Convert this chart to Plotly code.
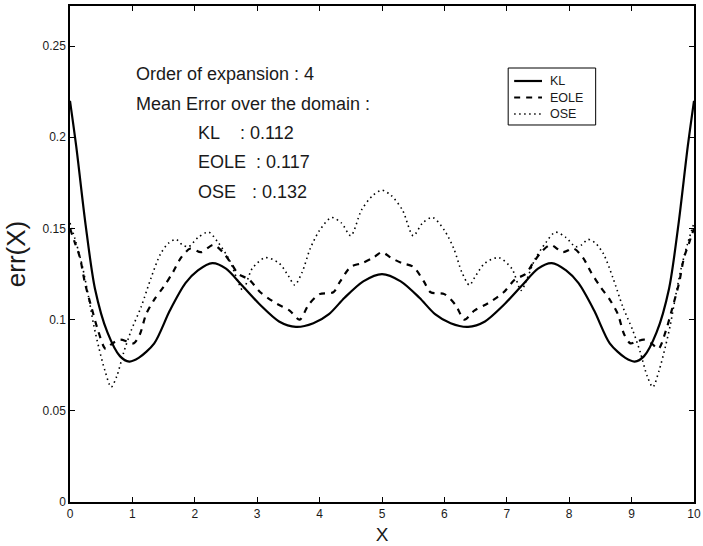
import plotly.graph_objects as go

# Error of the truncated expansions along the domain (order 4)
kl_x = [0, 0.1, 0.25, 0.4, 0.6, 0.8, 0.95, 1.1, 1.35, 1.6, 1.85, 2.05, 2.28, 2.5, 2.75,
        3.05, 3.35, 3.62, 3.9, 4.15, 4.4, 4.7, 5.0,
        5.3, 5.6, 5.85, 6.1, 6.38, 6.65, 6.95, 7.25, 7.5, 7.72, 7.95, 8.15, 8.4, 8.65,
        8.9, 9.05, 9.2, 9.4, 9.6, 9.75, 9.9, 10]
kl_err = [0.220, 0.195, 0.152, 0.117, 0.093, 0.080, 0.077, 0.079, 0.087, 0.105, 0.120,
          0.127, 0.131, 0.128, 0.119, 0.108, 0.099, 0.096, 0.098, 0.103, 0.112, 0.121, 0.125,
          0.121, 0.112, 0.103, 0.098, 0.096, 0.099, 0.108, 0.119, 0.128, 0.131, 0.127, 0.120,
          0.105, 0.087, 0.079, 0.077, 0.080, 0.093, 0.117, 0.152, 0.195, 0.220]

eole_x = [0, 0.08, 0.16, 0.24, 0.35, 0.45, 0.57, 0.68, 0.8, 0.92, 1.02, 1.12, 1.22, 1.35,
          1.5, 1.65, 1.78, 1.93, 2.1, 2.3, 2.45, 2.58, 2.7, 2.87, 3.05, 3.3, 3.52, 3.68,
          3.82, 4.0, 4.22, 4.33, 4.5, 4.68, 4.86, 5.0,
          5.14, 5.32, 5.5, 5.67, 5.78, 6.0, 6.18, 6.32, 6.48, 6.7, 6.95, 7.13, 7.3, 7.42,
          7.55, 7.7, 7.9, 8.07, 8.22, 8.35, 8.5, 8.65, 8.78, 8.88, 8.98, 9.08, 9.2, 9.32,
          9.43, 9.55, 9.65, 9.76, 9.84, 9.92, 10]
eole_err = [0.150, 0.142, 0.134, 0.120, 0.106, 0.094, 0.084, 0.087, 0.089, 0.088, 0.087,
            0.092, 0.103, 0.111, 0.118, 0.126, 0.134, 0.139, 0.137, 0.141, 0.137, 0.131,
            0.125, 0.122, 0.115, 0.109, 0.105, 0.100, 0.108, 0.114, 0.115, 0.121, 0.129,
            0.131, 0.134, 0.137,
            0.134, 0.131, 0.129, 0.121, 0.115, 0.114, 0.108, 0.100, 0.105, 0.109, 0.115,
            0.122, 0.125, 0.131, 0.137, 0.141, 0.137, 0.139, 0.134, 0.126, 0.118, 0.111,
            0.103, 0.092, 0.087, 0.088, 0.089, 0.087, 0.084, 0.094, 0.106, 0.120, 0.134,
            0.142, 0.150]

ose_x = [0, 0.1, 0.2, 0.3, 0.38, 0.46, 0.56, 0.66, 0.75, 0.86, 0.98, 1.14, 1.3, 1.45,
         1.58, 1.7, 1.8, 1.9, 2.05, 2.22, 2.38, 2.55, 2.68, 2.77, 2.92, 3.13, 3.35, 3.5,
         3.6, 3.72, 3.85, 4.0, 4.19, 4.35, 4.5, 4.67, 4.85, 5.0,
         5.15, 5.33, 5.5, 5.65, 5.81, 6.0, 6.15, 6.28, 6.4, 6.5, 6.65, 6.87, 7.08, 7.23,
         7.32, 7.45, 7.62, 7.78, 7.95, 8.1, 8.2, 8.3, 8.42, 8.55, 8.7, 8.86, 9.02, 9.14,
         9.25, 9.34, 9.44, 9.54, 9.62, 9.7, 9.8, 9.9, 10]
ose_err = [0.153, 0.142, 0.129, 0.112, 0.097, 0.085, 0.072, 0.063, 0.069, 0.082, 0.094,
           0.107, 0.123, 0.136, 0.142, 0.144, 0.141, 0.140, 0.145, 0.148, 0.142, 0.133,
           0.122, 0.116, 0.128, 0.134, 0.131, 0.124, 0.119, 0.126, 0.139, 0.149, 0.156,
           0.153, 0.146, 0.160, 0.168, 0.171,
           0.168, 0.160, 0.146, 0.153, 0.156, 0.149, 0.139, 0.126, 0.119, 0.124, 0.131,
           0.134, 0.128, 0.116, 0.122, 0.133, 0.142, 0.148, 0.145, 0.140, 0.141, 0.144,
           0.142, 0.136, 0.123, 0.107, 0.094, 0.082, 0.069, 0.063, 0.072, 0.085, 0.097,
           0.112, 0.129, 0.142, 0.153]

series_names = ["KL", "EOLE", "OSE"]
x_ticks = [0, 1, 2, 3, 4, 5, 6, 7, 8, 9, 10]
y_ticks = [0, 0.05, 0.1, 0.15, 0.2, 0.25]
y_tick_labels = ["0", "0.05", "0.1", "0.15", "0.2", "0.25"]

info_lines = ["Order of expansion : 4", "Mean Error over the domain :"]
mean_values = ["0.112", "0.117", "0.132"]

FONT = "Liberation Sans, Arial, Helvetica, sans-serif"
TXT = "#1a1a1a"

# line styles per method: (width, dash)
styles = [(2.2, "solid"), (2.2, "6px,6px"), (1.6, "1.5px,3.5px")]
curves = [(kl_x, kl_err), (eole_x, eole_err), (ose_x, ose_err)]

fig = go.Figure()
for name, (xs, ys), (w, d) in zip(series_names, curves, styles):
    fig.add_trace(go.Scatter(x=xs, y=ys, mode="lines", name=name, showlegend=False,
                             line=dict(color="black", width=w, dash=d,
                                       shape="spline", smoothing=0.8)))

annotations = []
for i, txt in enumerate(info_lines):
    annotations.append(dict(x=0.102, y=0.862 - i * 0.059, xref="paper", yref="paper",
                            text=txt, showarrow=False, xanchor="left", yanchor="middle",
                            font=dict(family=FONT, size=18, color=TXT)))
colon_x = [0.27, 0.295, 0.288]
for i, (lab, val) in enumerate(zip(series_names, mean_values)):
    yy = 0.744 - i * 0.059
    annotations.append(dict(x=0.202, y=yy, xref="paper", yref="paper", text=lab,
                            showarrow=False, xanchor="left", yanchor="middle",
                            font=dict(family=FONT, size=18, color=TXT)))
    annotations.append(dict(x=colon_x[i], y=yy, xref="paper", yref="paper",
                            text=": " + val, showarrow=False,
                            xanchor="left", yanchor="middle",
                            font=dict(family=FONT, size=18, color=TXT)))

# legend box drawn in paper coordinates
shapes = [dict(type="rect", xref="paper", yref="paper", x0=0.7022, x1=0.8424,
               y0=0.7601, y1=0.8750, line=dict(color="black", width=1),
               fillcolor="white", layer="above")]
legend_rows = [0.8488, 0.8155, 0.7823]
for name, yy, (w, d) in zip(series_names, legend_rows, styles):
    shapes.append(dict(type="line", xref="paper", yref="paper", x0=0.7118, x1=0.7564,
                       y0=yy, y1=yy, line=dict(color="black", width=w, dash=d)))
    annotations.append(dict(x=0.7675, y=yy, xref="paper", yref="paper", text=name,
                            showarrow=False, xanchor="left", yanchor="middle",
                            borderpad=0,
                            font=dict(family=FONT, size=12.5, color=TXT)))

fig.update_layout(
    width=703, height=546,
    margin=dict(l=70, r=9, t=6, b=44),
    paper_bgcolor="white", plot_bgcolor="white",
    font=dict(family=FONT, color="black"),
    showlegend=False,
    annotations=annotations,
    shapes=shapes,
    xaxis=dict(range=[0, 10], tickmode="array", tickvals=x_ticks, automargin=False,
               ticklabeloverflow="allow",
               showline=True, linecolor="black", linewidth=1.5, mirror="ticks",
               ticks="inside", ticklen=5, tickcolor="black", showgrid=False,
               zeroline=False, tickfont=dict(family=FONT, size=12, color=TXT),
               title=dict(text="X", font=dict(family=FONT, size=19, color=TXT),
                          standoff=8)),
    yaxis=dict(range=[0, 0.272], tickmode="array", tickvals=y_ticks,
               ticktext=y_tick_labels, automargin=False, ticklabeloverflow="allow",
               showline=True, linecolor="black", linewidth=1.5, mirror="ticks",
               ticks="inside", ticklen=5, tickcolor="black", showgrid=False,
               zeroline=False, tickfont=dict(family=FONT, size=12, color=TXT),
               title=dict(text="err(X)", font=dict(family=FONT, size=26, color=TXT),
                          standoff=9)),
)

fig.write_html("out.html")
